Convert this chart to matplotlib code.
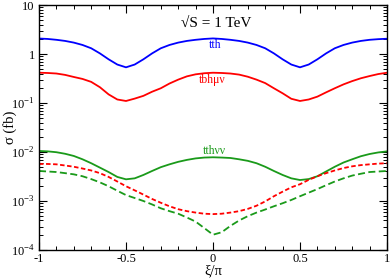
import matplotlib
matplotlib.use("Agg")
import matplotlib.pyplot as plt
from matplotlib.ticker import FixedLocator, FixedFormatter, LogLocator, NullFormatter, MultipleLocator

plt.rcParams['font.family'] = ['Liberation Serif', 'DejaVu Serif']
plt.rcParams['mathtext.fontset'] = 'custom'
plt.rcParams['mathtext.rm'] = 'Liberation Serif'
plt.rcParams['axes.unicode_minus'] = False

# xi / pi, every 0.05 from -1 to 1
xi = [-1.0, -0.95, -0.9, -0.85, -0.8, -0.75, -0.7, -0.65, -0.6, -0.55, -0.5,
      -0.45, -0.4, -0.35, -0.3, -0.25, -0.2, -0.15, -0.1, -0.05, 0.0,
      0.05, 0.1, 0.15, 0.2, 0.25, 0.3, 0.35, 0.4, 0.45, 0.5,
      0.55, 0.6, 0.65, 0.7, 0.75, 0.8, 0.85, 0.9, 0.95, 1.0]

# cross sections in fb
tth = [2.07, 2.03, 1.95, 1.85, 1.71, 1.53, 1.31, 1.03, 0.78, 0.61, 0.535,
       0.61, 0.78, 1.03, 1.31, 1.53, 1.71, 1.85, 1.95, 2.03, 2.08,
       2.03, 1.95, 1.85, 1.71, 1.53, 1.31, 1.03, 0.78, 0.61, 0.535,
       0.61, 0.78, 1.03, 1.31, 1.53, 1.71, 1.85, 1.95, 2.01, 2.05]
tbhmv = [0.415, 0.41, 0.40, 0.375, 0.34, 0.31, 0.27, 0.21, 0.150, 0.118, 0.110,
         0.123, 0.140, 0.170, 0.200, 0.250, 0.300, 0.350, 0.385, 0.405, 0.415,
         0.41, 0.40, 0.38, 0.344, 0.30, 0.255, 0.20, 0.158, 0.122, 0.110,
         0.118, 0.135, 0.165, 0.20, 0.24, 0.28, 0.32, 0.355, 0.39, 0.415]
tthvv = [0.0105, 0.0103, 0.0099, 0.0092, 0.0083, 0.0071, 0.0059, 0.0048, 0.0039, 0.0031, 0.00277,
         0.0029, 0.0034, 0.0041, 0.0049, 0.0056, 0.0063, 0.0069, 0.0074, 0.0077, 0.0078,
         0.0077, 0.00755, 0.0071, 0.0066, 0.0059, 0.0050, 0.0041, 0.0034, 0.0029, 0.00268,
         0.0028, 0.0032, 0.0040, 0.0050, 0.0061, 0.0071, 0.0082, 0.0091, 0.0098, 0.0103]
red_dash = [0.0057, 0.0057, 0.0056, 0.0053, 0.0050, 0.0046, 0.0042, 0.0037, 0.0031, 0.0025, 0.0020,
            0.00165, 0.00135, 0.00110, 0.00092, 0.00078, 0.00068, 0.00062, 0.00058, 0.00055, 0.00054,
            0.00055, 0.00058, 0.00062, 0.00069, 0.00080, 0.00098, 0.00125, 0.00155, 0.0019, 0.0022,
            0.0027, 0.0032, 0.0037, 0.0042, 0.0047, 0.0051, 0.0054, 0.0056, 0.0058, 0.0059]
green_dash = [0.0041, 0.0040, 0.0039, 0.0037, 0.0035, 0.0032, 0.0028, 0.0024, 0.0020, 0.00162, 0.00132,
              0.00115, 0.00100, 0.00085, 0.00071, 0.00062, 0.00055, 0.00046, 0.00038, 0.00028, 0.000205,
              0.00023, 0.00031, 0.00040, 0.00049, 0.00058, 0.00067, 0.00078, 0.00090, 0.00105, 0.00125,
              0.00148, 0.00175, 0.0021, 0.0025, 0.0029, 0.0033, 0.0036, 0.0039, 0.0040, 0.0041]

blue = '#0000ff'
red = '#ff0000'
green = '#1a9a1a'

fig = plt.figure(figsize=(3.9, 2.79), dpi=100)
ax = fig.add_axes([0.1, 0.104, 0.8923, 0.878])

ax.plot(xi, tth, color=blue, lw=1.3)
ax.plot(xi, tbhmv, color=red, lw=1.3)
ax.plot(xi, tthvv, color=green, lw=1.3)
ax.plot(xi, red_dash, color=red, lw=1.3, dashes=(2.5, 1.4))
ax.plot(xi, green_dash, color=green, lw=1.3, dashes=(3.9, 1.9))

ax.set_yscale('log')
ax.set_xlim(-1, 1)
ax.set_ylim(1e-4, 10)

ax.xaxis.set_major_locator(FixedLocator([-1, -0.5, 0, 0.5, 1]))
ax.xaxis.set_major_formatter(FixedFormatter(['-1', '-0.5', '0', '0.5', '1']))
ax.xaxis.set_minor_locator(MultipleLocator(0.1))

ax.yaxis.set_major_locator(FixedLocator([1e-4, 1e-3, 1e-2, 1e-1, 1, 10]))
ax.yaxis.set_major_formatter(FixedFormatter(['$10^{-4}$', '$10^{-3}$', '$10^{-2}$',
                                             '$10^{-1}$', '1', '10']))
ax.yaxis.set_minor_locator(LogLocator(base=10, subs=range(2, 10), numticks=20))
ax.yaxis.set_minor_formatter(NullFormatter())

ax.tick_params(which='both', direction='in', top=True, right=True, labelsize=9)
ax.tick_params(which='major', length=6, width=0.8)
ax.tick_params(which='minor', length=3, width=0.7)
ax.tick_params(axis='x', pad=2)
ax.tick_params(axis='y', pad=3)
for s in ax.spines.values():
    s.set_linewidth(1.0)

ax.set_xlabel('ξ/π', fontsize=10.5, labelpad=0)
ax.set_ylabel('σ (fb)', fontsize=10.5)
ax.yaxis.set_label_coords(-0.062, 0.5)

ax.text(0.02, 4.3, '√S = 1 TeV', fontsize=11, ha='center', va='center')
ax.text(0.01, 1.53, 'tth', color=blue, fontsize=8.5, ha='center', va='center')
ax.text(-0.005, 0.295, 'tbhμν', color=red, fontsize=8.5, ha='center', va='center')
ax.text(0.01, 0.0106, 'tthνν', color=green, fontsize=8.5, ha='center', va='center')

fig.savefig('out.png', dpi=100)
